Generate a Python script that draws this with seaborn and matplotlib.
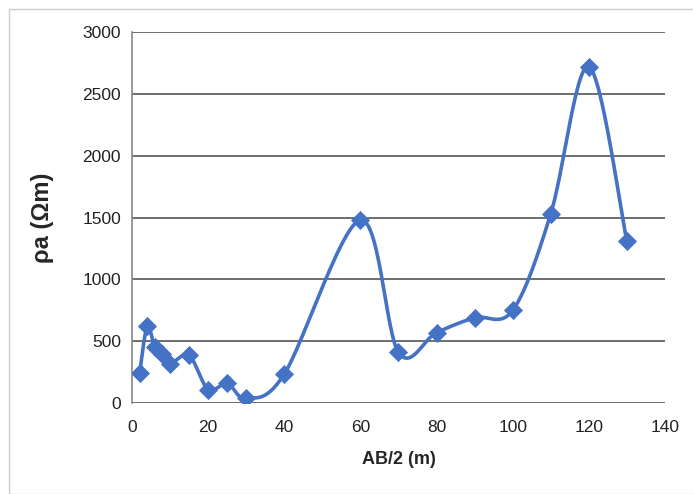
import numpy as np
import pandas as pd
import matplotlib
matplotlib.use("Agg")
import matplotlib.pyplot as plt
import seaborn as sns
from matplotlib.patches import Rectangle

# Data
ab2 = [2, 4, 6, 8, 10, 15, 20, 25, 30, 40, 60, 70, 80, 90, 100, 110, 120, 130]
rho_a = [245, 620, 450, 400, 320, 385, 110, 160, 40, 235, 1480, 410, 570, 690, 750, 1530, 2720, 1310]

LINE_COLOR = "#4472C4"


def excel_smooth(xs, ys, n=30):
    # Bezier smoothing similar to spreadsheet "smoothed line"
    pts = np.column_stack([xs, ys]).astype(float)
    out = []
    for i in range(len(pts) - 1):
        p0 = pts[i - 1] if i > 0 else pts[i]
        p1 = pts[i]
        p2 = pts[i + 1]
        p3 = pts[i + 2] if i + 2 < len(pts) else pts[i + 1]
        c1 = p1 + (p2 - p0) / 6.0
        c2 = p2 - (p3 - p1) / 6.0
        t = np.linspace(0, 1, n)[:, None]
        seg = ((1 - t) ** 3) * p1 + 3 * ((1 - t) ** 2) * t * c1 + 3 * (1 - t) * t ** 2 * c2 + t ** 3 * p2
        out.append(seg if i == 0 else seg[1:])
    seg = np.vstack(out)
    return seg[:, 0], seg[:, 1]


sns.set_style("white")
plt.rcParams["font.family"] = ["Liberation Sans Narrow", "Liberation Sans", "DejaVu Sans"]

df = pd.DataFrame({"AB2": ab2, "rho": rho_a})
sx, sy = excel_smooth(ab2, rho_a)
smooth_df = pd.DataFrame({"AB2": sx, "rho": sy})

fig = plt.figure(figsize=(6.93, 4.94), dpi=100)
ax = fig.add_axes([0.1905, 0.184, 0.769, 0.751])

sns.lineplot(data=smooth_df, x="AB2", y="rho", ax=ax, color=LINE_COLOR, linewidth=2.6,
             sort=False, estimator=None)
sns.scatterplot(data=df, x="AB2", y="rho", ax=ax, color=LINE_COLOR, marker="D", s=95,
                edgecolor=LINE_COLOR, linewidth=0, zorder=5)

ax.set_xlim(0, 140)
ax.set_ylim(0, 3000)
ax.set_xticks(range(0, 141, 20))
ax.set_yticks(range(0, 3001, 500))
ax.yaxis.grid(True, color="#555555", linewidth=1.2)
ax.xaxis.grid(False)
ax.set_axisbelow(True)
for side in ["top", "right", "bottom"]:
    ax.spines[side].set_visible(False)
ax.spines["left"].set_color("#888888")
ax.spines["left"].set_linewidth(1.2)
ax.tick_params(axis="both", length=0, labelsize=12.5, colors="#222222")
ax.tick_params(axis="x", pad=12)
ax.tick_params(axis="y", pad=8)

ax.set_xlabel("AB/2 (m)", fontsize=13, fontweight="bold", labelpad=12)
ax.set_ylabel("ρa (Ωm)", fontsize=17, fontweight="bold", labelpad=20)

fig.patches.append(Rectangle((0.013, 0.0), 0.99, 0.982, transform=fig.transFigure,
                             fill=False, edgecolor="#cccccc", linewidth=1))

fig.savefig("out.png", dpi=100)
